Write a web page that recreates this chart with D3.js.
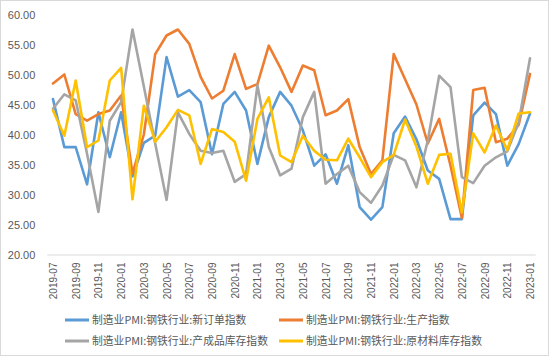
<!DOCTYPE html>
<html><head><meta charset="utf-8">
<script src="https://cdn.jsdelivr.net/npm/d3@7"></script>
<style>
body{margin:0;background:#fff;}
svg{display:block;}
</style></head>
<body>
<svg id="chart" width="550" height="357"></svg>
<script>
const months = ["2019-07","2019-08","2019-09","2019-10","2019-11","2019-12",
"2020-01","2020-02","2020-03","2020-04","2020-05","2020-06","2020-07","2020-08","2020-09","2020-10","2020-11","2020-12",
"2021-01","2021-02","2021-03","2021-04","2021-05","2021-06","2021-07","2021-08","2021-09","2021-10","2021-11","2021-12",
"2022-01","2022-02","2022-03","2022-04","2022-05","2022-06","2022-07","2022-08","2022-09","2022-10","2022-11","2022-12",
"2023-01"];
const tickLabels = ["2019-07","2019-09","2019-11","2020-01","2020-03","2020-05","2020-07","2020-09","2020-11",
"2021-01","2021-03","2021-05","2021-07","2021-09","2021-11","2022-01","2022-03","2022-05","2022-07","2022-09","2022-11","2023-01"];
const yTicks = [20,25,30,35,40,45,50,55,60];

const newOrders = [45.9,37.9,37.9,31.7,43.7,36.2,43.7,33.0,38.6,39.8,52.9,46.3,47.4,45.4,36.7,45.1,47.1,44.0,35.1,42.9,47.1,44.8,40.7,34.8,36.7,31.8,38.2,27.9,25.8,27.9,40.2,43.0,39.2,34.0,32.6,25.9,25.9,43.2,45.3,43.4,34.8,38.4,43.5];
const production = [48.5,50.0,43.4,42.3,43.4,44.0,46.5,33.5,40.0,53.4,56.5,57.5,55.1,49.6,46.0,47.3,53.4,47.6,48.4,54.8,51.2,47.1,51.5,50.7,43.2,44.0,45.9,37.9,33.4,35.7,53.4,49.2,45.0,38.5,42.6,34.8,26.1,47.4,47.8,38.7,39.3,41.6,50.1];
const finishedStock = [44.3,46.7,45.7,36.8,27.1,42.3,45.4,57.5,48.0,38.5,29.1,43.7,40.1,37.3,36.9,37.3,32.1,33.4,48.2,37.9,33.2,34.3,42.9,47.1,31.8,33.4,34.8,30.4,28.6,31.5,36.6,35.7,31.2,39.0,49.8,47.9,32.9,31.9,34.8,36.2,37.2,42.0,52.7];
const rawStock = [44.0,39.8,49.0,37.9,39.0,49.0,51.1,29.2,44.8,38.8,41.2,44.1,43.2,35.1,40.9,40.4,38.8,32.3,42.6,46.2,36.5,35.4,39.8,37.3,35.8,35.7,39.3,36.2,32.9,35.4,36.6,42.5,38.0,31.8,36.6,36.8,27.0,40.2,37.0,41.5,37.4,43.5,43.7];

const seriesNames = ["制造业PMI:钢铁行业:新订单指数","制造业PMI:钢铁行业:生产指数","制造业PMI:钢铁行业:产成品库存指数","制造业PMI:钢铁行业:原材料库存指数"];
const seriesColors = ["#5B9BD5","#ED7D31","#A5A5A5","#FFC000"];
const seriesValues = [newOrders, production, finishedStock, rawStock];

const svg = d3.select("#chart");
svg.append("rect").attr("x",0.5).attr("y",0.5).attr("width",548).attr("height",355)
  .attr("fill","#fff").attr("stroke","#d9d9d9");

const plotLeft = 47.3, plotRight = 535.7, plotTop = 14.5, plotBottom = 254.5;
const x = d3.scalePoint().domain(months).range([plotLeft, plotRight]).padding(0.5);
const y = d3.scaleLinear().domain([20,60]).range([plotBottom, plotTop]);

const yAxis = svg.append("g").attr("transform",`translate(${plotLeft},0)`)
  .call(d3.axisLeft(y).tickValues(yTicks).tickSize(0).tickPadding(12).tickFormat(d3.format(".2f")));
yAxis.select(".domain").remove();
yAxis.selectAll("text").attr("fill","#595959").style("font-family","'Liberation Sans', Arial, sans-serif").style("font-size","11px");

const xAxis = svg.append("g").attr("transform",`translate(0,${plotBottom})`)
  .call(d3.axisBottom(x).tickValues(tickLabels).tickSize(0).tickPadding(0));
xAxis.select(".domain").attr("stroke","#d9d9d9").attr("d",`M${plotLeft},0.5H${plotRight}`);
xAxis.selectAll("text")
  .attr("fill","#595959")
  .style("font-family","'Liberation Sans', Arial, sans-serif").style("font-size","10px")
  .attr("text-anchor","end")
  .attr("transform","rotate(-90)")
  .attr("x",-8).attr("y",0).attr("dy","0.35em");

const line = d3.line().x((d,i)=>x(months[i])).y(d=>y(d));
seriesValues.forEach((vals,k)=>{
  svg.append("path").datum(vals)
    .attr("fill","none").attr("stroke",seriesColors[k])
    .attr("stroke-width",2.6).attr("stroke-linejoin","round").attr("stroke-linecap","round")
    .attr("d",line);
});

const legPos = [[65,320],[279,320],[65,341],[279,341]];
seriesNames.forEach((name,k)=>{
  const [lx,ly] = legPos[k];
  svg.append("line").attr("x1",lx).attr("x2",lx+24).attr("y1",ly).attr("y2",ly)
    .attr("stroke",seriesColors[k]).attr("stroke-width",3);
  svg.append("text").attr("x",lx+27).attr("y",ly).attr("dy","0.35em")
    .attr("fill","#595959")
    .style("font-family","'Noto Sans CJK SC', sans-serif").style("font-size","10.8px")
    .text(name);
});
</script>
</body></html>
